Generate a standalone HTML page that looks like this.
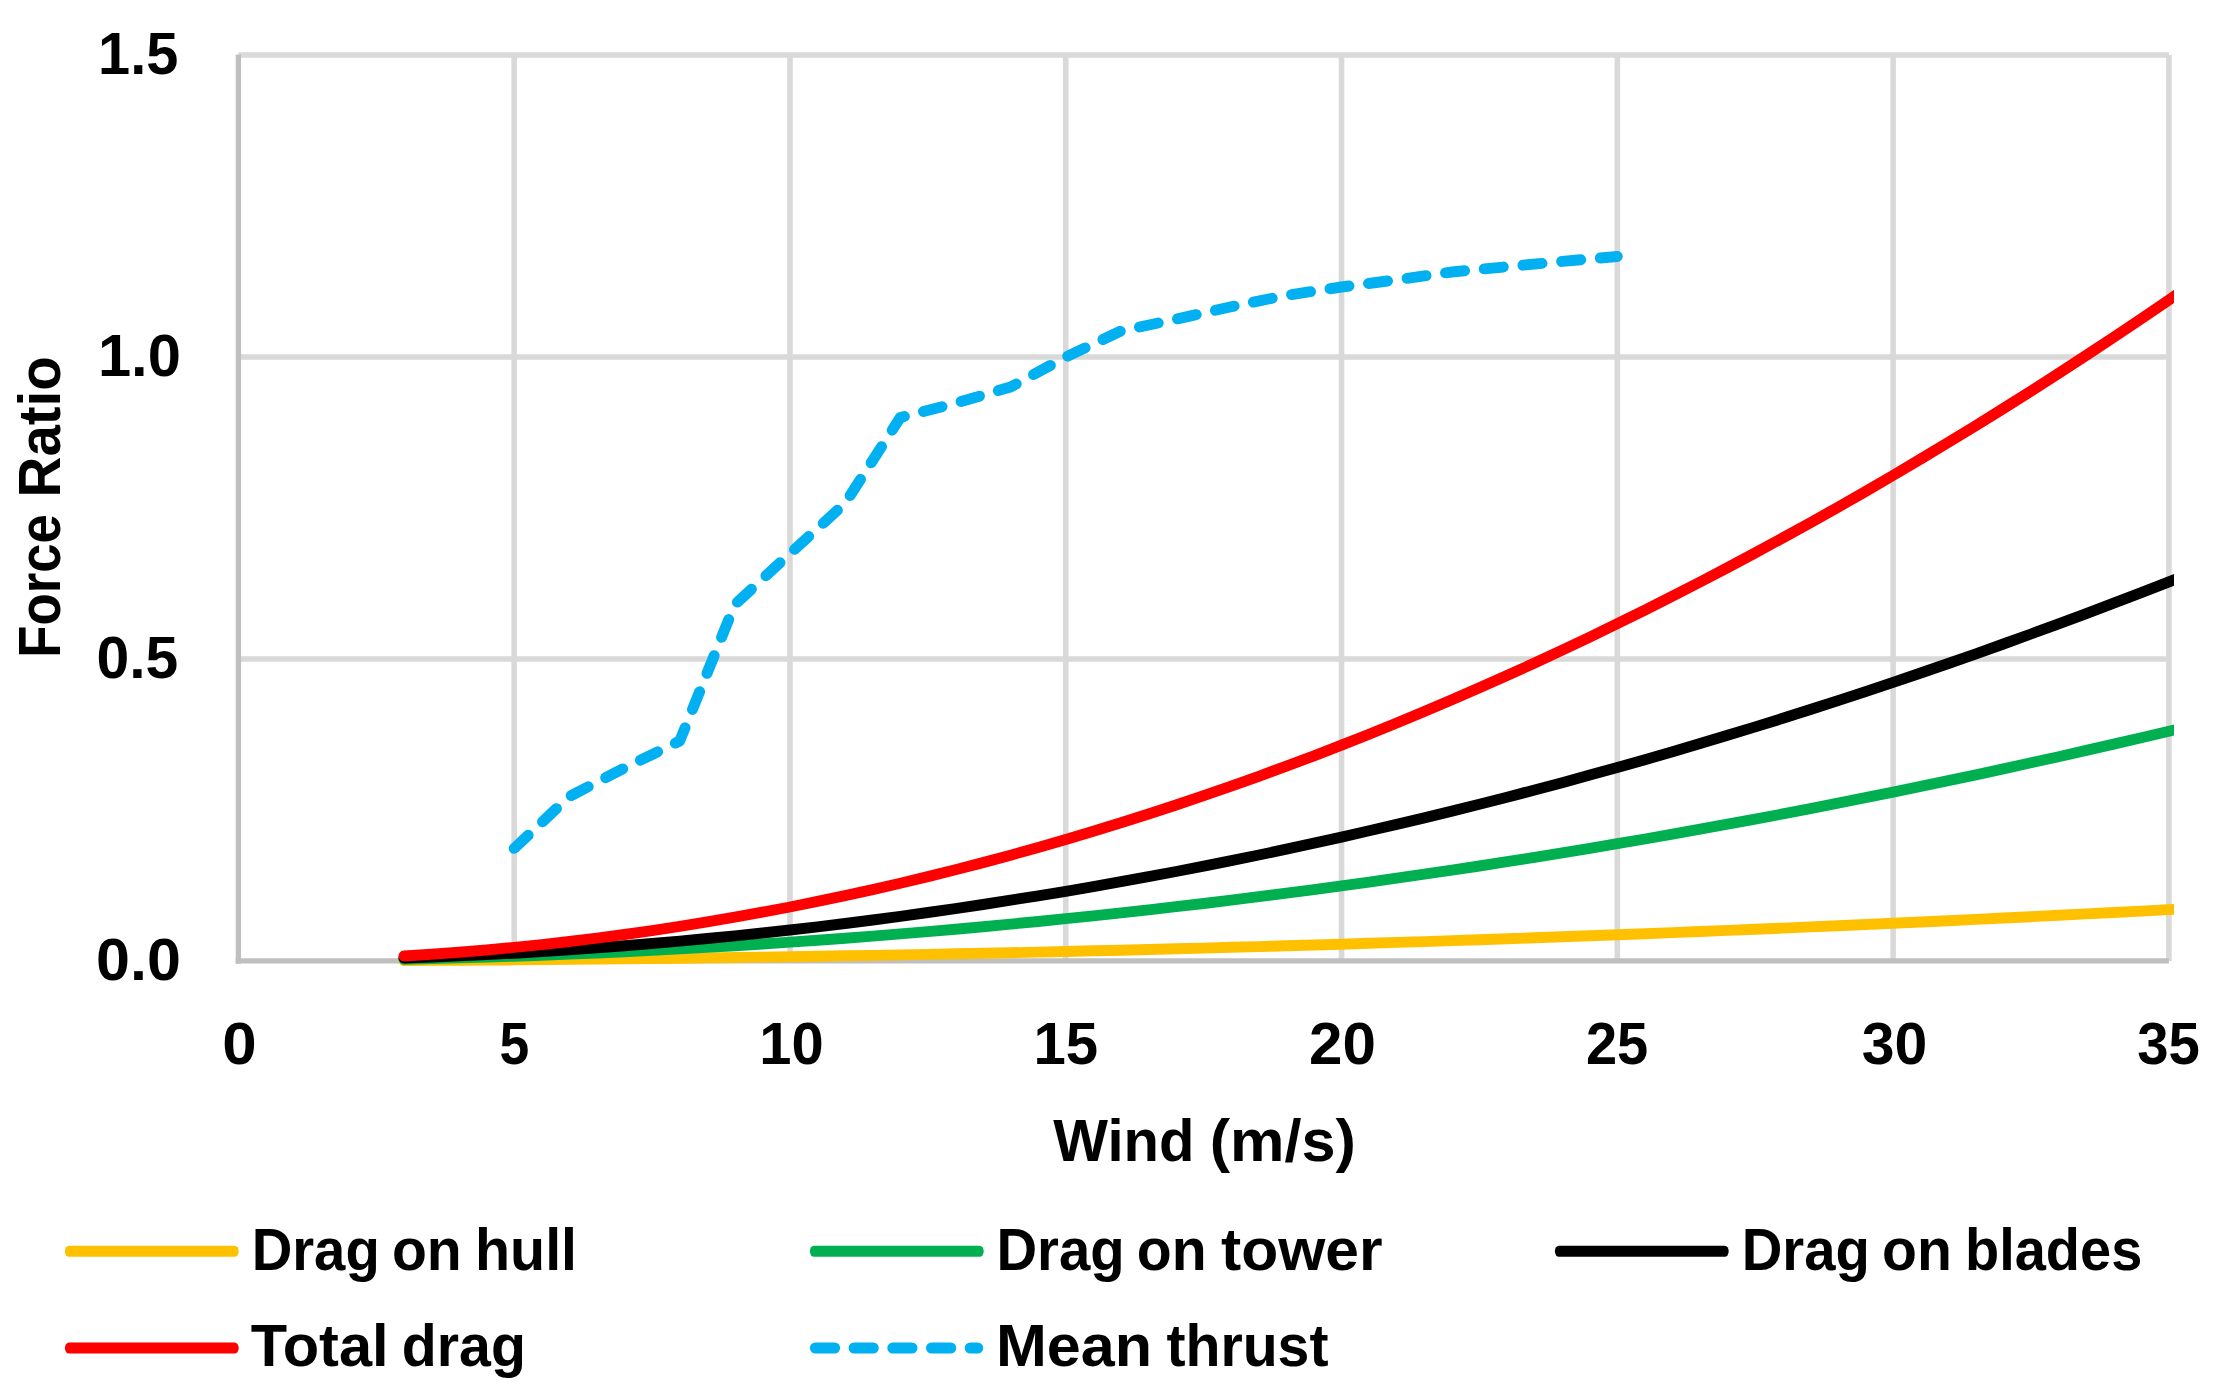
<!DOCTYPE html>
<html lang="en"><head><meta charset="utf-8"><title>Force Ratio vs Wind</title>
<style>
html,body{margin:0;padding:0;background:#fff;}
body{width:2227px;height:1398px;overflow:hidden;}
svg{display:block;}
text{font-family:"Liberation Sans",sans-serif;font-weight:bold;fill:#000;}
</style></head><body>
<svg width="2227" height="1398" viewBox="0 0 2227 1398">
<rect width="2227" height="1398" fill="#fff"/>

<g stroke="#D9D9D9" stroke-width="5.6" fill="none">
<line x1="514.19" y1="55.00" x2="514.19" y2="960.90"/>
<line x1="789.97" y1="55.00" x2="789.97" y2="960.90"/>
<line x1="1065.76" y1="55.00" x2="1065.76" y2="960.90"/>
<line x1="1341.54" y1="55.00" x2="1341.54" y2="960.90"/>
<line x1="1617.33" y1="55.00" x2="1617.33" y2="960.90"/>
<line x1="1893.11" y1="55.00" x2="1893.11" y2="960.90"/>
<line x1="2168.90" y1="55.00" x2="2168.90" y2="960.90"/>
<line x1="238.40" y1="658.93" x2="2168.90" y2="658.93"/>
<line x1="238.40" y1="356.97" x2="2168.90" y2="356.97"/>
<line x1="238.40" y1="55.00" x2="2168.90" y2="55.00"/>
</g>
<g stroke="#BFBFBF" stroke-width="5.3" fill="none">
<line x1="238.40" y1="54.50" x2="238.40" y2="963.65"/>
<line x1="235.65" y1="960.90" x2="2168.90" y2="960.90"/>
</g>
<clipPath id="c"><rect x="230" y="40" width="1944.0" height="940"/></clipPath>
<g clip-path="url(#c)" fill="none" stroke-width="10.9" stroke-linecap="round" stroke-linejoin="round">
<polyline stroke="#FFC000" points="403.9,960.5 431.5,960.4 459.0,960.2 486.6,960.1 514.2,959.9 541.8,959.6 569.3,959.4 596.9,959.1 624.5,958.8 652.1,958.5 679.7,958.2 707.2,957.9 734.8,957.5 762.4,957.1 790.0,956.7 817.5,956.3 845.1,955.8 872.7,955.4 900.3,954.9 927.9,954.4 955.4,953.8 983.0,953.3 1010.6,952.7 1038.2,952.1 1065.8,951.5 1093.3,950.8 1120.9,950.2 1148.5,949.5 1176.1,948.8 1203.7,948.1 1231.2,947.3 1258.8,946.6 1286.4,945.8 1314.0,945.0 1341.5,944.2 1369.1,943.3 1396.7,942.4 1424.3,941.6 1451.9,940.6 1479.4,939.7 1507.0,938.8 1534.6,937.8 1562.2,936.8 1589.8,935.8 1617.3,934.7 1644.9,933.7 1672.5,932.6 1700.1,931.5 1727.6,930.4 1755.2,929.2 1782.8,928.1 1810.4,926.9 1838.0,925.7 1865.5,924.5 1893.1,923.2 1920.7,922.0 1948.3,920.7 1975.9,919.4 2003.4,918.0 2031.0,916.7 2058.6,915.3 2086.2,913.9 2113.7,912.5 2141.3,911.1 2168.9,909.6 2196.5,908.2 2224.1,906.7"/>
<polyline stroke="#00B050" points="403.9,959.2 431.5,958.6 459.0,957.9 486.6,957.1 514.2,956.2 541.8,955.2 569.3,954.1 596.9,953.0 624.5,951.7 652.1,950.4 679.7,948.9 707.2,947.4 734.8,945.7 762.4,944.0 790.0,942.1 817.5,940.2 845.1,938.2 872.7,936.1 900.3,933.9 927.9,931.6 955.4,929.2 983.0,926.7 1010.6,924.1 1038.2,921.5 1065.8,918.7 1093.3,915.8 1120.9,912.9 1148.5,909.8 1176.1,906.7 1203.7,903.5 1231.2,900.1 1258.8,896.7 1286.4,893.2 1314.0,889.6 1341.5,885.9 1369.1,882.1 1396.7,878.2 1424.3,874.2 1451.9,870.1 1479.4,866.0 1507.0,861.7 1534.6,857.3 1562.2,852.9 1589.8,848.3 1617.3,843.7 1644.9,839.0 1672.5,834.1 1700.1,829.2 1727.6,824.2 1755.2,819.1 1782.8,813.9 1810.4,808.6 1838.0,803.2 1865.5,797.7 1893.1,792.1 1920.7,786.4 1948.3,780.7 1975.9,774.8 2003.4,768.9 2031.0,762.8 2058.6,756.7 2086.2,750.4 2113.7,744.1 2141.3,737.7 2168.9,731.2 2196.5,724.6 2224.1,717.8"/>
<polyline stroke="#000000" points="403.9,958.1 431.5,957.1 459.0,955.9 486.6,954.6 514.2,953.2 541.8,951.5 569.3,949.8 596.9,947.8 624.5,945.7 652.1,943.5 679.7,941.1 707.2,938.5 734.8,935.8 762.4,933.0 790.0,930.0 817.5,926.8 845.1,923.5 872.7,920.0 900.3,916.3 927.9,912.5 955.4,908.6 983.0,904.5 1010.6,900.2 1038.2,895.8 1065.8,891.3 1093.3,886.6 1120.9,881.7 1148.5,876.6 1176.1,871.5 1203.7,866.1 1231.2,860.6 1258.8,855.0 1286.4,849.2 1314.0,843.2 1341.5,837.1 1369.1,830.8 1396.7,824.4 1424.3,817.9 1451.9,811.1 1479.4,804.2 1507.0,797.2 1534.6,790.0 1562.2,782.7 1589.8,775.1 1617.3,767.5 1644.9,759.7 1672.5,751.7 1700.1,743.6 1727.6,735.3 1755.2,726.9 1782.8,718.3 1810.4,709.5 1838.0,700.6 1865.5,691.6 1893.1,682.4 1920.7,673.0 1948.3,663.5 1975.9,653.8 2003.4,644.0 2031.0,634.0 2058.6,623.9 2086.2,613.6 2113.7,603.2 2141.3,592.6 2168.9,581.8 2196.5,570.9 2224.1,559.8"/>
<polyline stroke="#FF0000" points="403.9,956.0 431.5,954.3 459.0,952.3 486.6,950.0 514.2,947.4 541.8,944.6 569.3,941.5 596.9,938.1 624.5,934.5 652.1,930.6 679.7,926.4 707.2,921.9 734.8,917.2 762.4,912.2 790.0,907.0 817.5,901.4 845.1,895.6 872.7,889.6 900.3,883.2 927.9,876.6 955.4,869.7 983.0,862.6 1010.6,855.2 1038.2,847.5 1065.8,839.5 1093.3,831.3 1120.9,822.8 1148.5,814.0 1176.1,805.0 1203.7,795.7 1231.2,786.1 1258.8,776.3 1286.4,766.1 1314.0,755.8 1341.5,745.1 1369.1,734.2 1396.7,723.0 1424.3,711.5 1451.9,699.8 1479.4,687.8 1507.0,675.5 1534.6,663.0 1562.2,650.1 1589.8,637.1 1617.3,623.7 1644.9,610.1 1672.5,596.2 1700.1,582.0 1727.6,567.6 1755.2,552.9 1782.8,537.9 1810.4,522.7 1838.0,507.2 1865.5,491.4 1893.1,475.4 1920.7,459.0 1948.3,442.4 1975.9,425.6 2003.4,408.5 2031.0,391.1 2058.6,373.4 2086.2,355.4 2113.7,337.2 2141.3,318.8 2168.9,300.0 2196.5,281.0 2224.1,261.7"/>
<polyline stroke="#00B0F0" stroke-dasharray="19.2 19.68" points="514.2,848.4 569.3,796.5 624.5,768.0 679.7,741.0 734.8,604.5 790.0,553.5 845.1,503.3 900.3,417.5 955.4,403.2 1010.6,387.0 1065.8,357.0 1120.9,331.0 1176.1,319.2 1231.2,306.7 1286.4,295.3 1341.5,287.0 1396.7,279.8 1451.9,272.0 1507.0,266.7 1562.2,261.4 1617.3,256.5"/>
</g>
<text y="979.50" font-size="60"><tspan x="96.09" textLength="84.81" lengthAdjust="spacingAndGlyphs">0.0</tspan></text>
<text y="677.60" font-size="60"><tspan x="96.57" textLength="81.76" lengthAdjust="spacingAndGlyphs">0.5</tspan></text>
<text y="375.70" font-size="60"><tspan x="97.94" textLength="82.90" lengthAdjust="spacingAndGlyphs">1.0</tspan></text>
<text y="73.80" font-size="60"><tspan x="98.06" textLength="80.24" lengthAdjust="spacingAndGlyphs">1.5</tspan></text>
<text y="1063.60" font-size="60"><tspan x="222.36" textLength="34.38" lengthAdjust="spacingAndGlyphs">0</tspan></text>
<text y="1063.60" font-size="60"><tspan x="499.56" textLength="29.73" lengthAdjust="spacingAndGlyphs">5</tspan></text>
<text y="1063.60" font-size="60"><tspan x="759.25" textLength="64.42" lengthAdjust="spacingAndGlyphs">10</tspan></text>
<text y="1063.60" font-size="60"><tspan x="1033.44" textLength="64.68" lengthAdjust="spacingAndGlyphs">15</tspan></text>
<text y="1063.60" font-size="60"><tspan x="1309.12" textLength="66.85" lengthAdjust="spacingAndGlyphs">20</tspan></text>
<text y="1063.60" font-size="60"><tspan x="1585.96" textLength="62.30" lengthAdjust="spacingAndGlyphs">25</tspan></text>
<text y="1063.60" font-size="60"><tspan x="1861.85" textLength="65.57" lengthAdjust="spacingAndGlyphs">30</tspan></text>
<text y="1063.60" font-size="60"><tspan x="2137.21" textLength="62.66" lengthAdjust="spacingAndGlyphs">35</tspan></text>
<text y="1161.30" font-size="60"><tspan x="1053.24" textLength="141.18" lengthAdjust="spacingAndGlyphs">Wind</tspan> <tspan x="1209.75" textLength="146.09" lengthAdjust="spacingAndGlyphs">(m/s)</tspan></text>
<text y="0.00" font-size="60" transform="translate(60.3,654.2) rotate(-90)"><tspan x="-3.53" textLength="143.53" lengthAdjust="spacingAndGlyphs">Force</tspan> <tspan x="156.82" textLength="141.18" lengthAdjust="spacingAndGlyphs">Ratio</tspan></text>
<rect x="64.9" y="1245.7" width="173.8" height="11.1" rx="4" ry="5.55" fill="#FFC000"/>
<text y="1269.90" font-size="60"><tspan x="251.64" textLength="128.12" lengthAdjust="spacingAndGlyphs">Drag</tspan> <tspan x="391.97" textLength="69.77" lengthAdjust="spacingAndGlyphs">on</tspan> <tspan x="474.99" textLength="102.08" lengthAdjust="spacingAndGlyphs">hull</tspan></text>
<rect x="809.9" y="1245.7" width="173.8" height="11.1" rx="4" ry="5.55" fill="#00B050"/>
<text y="1269.90" font-size="60"><tspan x="996.44" textLength="128.12" lengthAdjust="spacingAndGlyphs">Drag</tspan> <tspan x="1136.77" textLength="69.77" lengthAdjust="spacingAndGlyphs">on</tspan> <tspan x="1220.96" textLength="161.66" lengthAdjust="spacingAndGlyphs">tower</tspan></text>
<rect x="1554.9" y="1245.7" width="173.8" height="11.1" rx="4" ry="5.55" fill="#000000"/>
<text y="1269.90" font-size="60"><tspan x="1741.74" textLength="128.12" lengthAdjust="spacingAndGlyphs">Drag</tspan> <tspan x="1882.07" textLength="69.77" lengthAdjust="spacingAndGlyphs">on</tspan> <tspan x="1965.01" textLength="177.28" lengthAdjust="spacingAndGlyphs">blades</tspan></text>
<rect x="64.9" y="1342.5" width="173.8" height="11.1" rx="4" ry="5.55" fill="#FF0000"/>
<text y="1365.80" font-size="60"><tspan x="250.73" textLength="137.89" lengthAdjust="spacingAndGlyphs">Total</tspan> <tspan x="401.85" textLength="124.08" lengthAdjust="spacingAndGlyphs">drag</tspan></text>
<line x1="815.4" y1="1348.0" x2="977.7" y2="1348.0" stroke="#00B0F0" stroke-width="11" stroke-linecap="round" stroke-dasharray="19.2 19.5"/>
<text y="1365.80" font-size="60"><tspan x="996.02" textLength="156.07" lengthAdjust="spacingAndGlyphs">Mean</tspan> <tspan x="1166.40" textLength="162.10" lengthAdjust="spacingAndGlyphs">thrust</tspan></text>
</svg></body></html>
